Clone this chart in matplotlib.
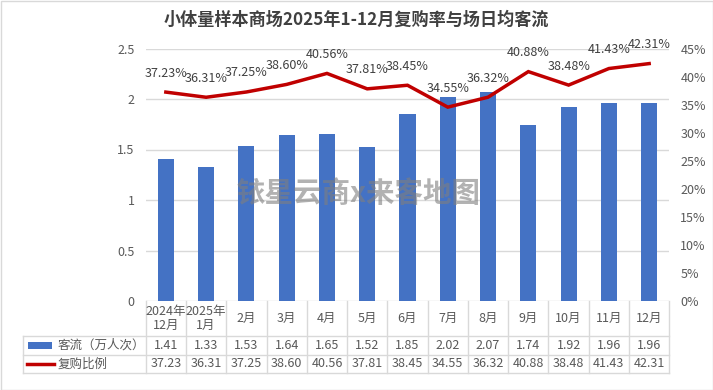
import matplotlib
matplotlib.use("Agg")
import matplotlib.pyplot as plt
from matplotlib.transforms import blended_transform_factory
from matplotlib.patches import Rectangle
from matplotlib.lines import Line2D
import numpy as np

plt.rcParams['font.family'] = ['Noto Sans CJK SC', 'DejaVu Sans']

title = "小体量样本商场2025年1-12月复购率与场日均客流"
categories = ["2024年\n12月", "2025年\n1月", "2月", "3月", "4月", "5月", "6月",
              "7月", "8月", "9月", "10月", "11月", "12月"]
traffic = [1.41, 1.33, 1.53, 1.64, 1.65, 1.52, 1.85, 2.02, 2.07, 1.74, 1.92, 1.96, 1.96]
repurchase = [37.23, 36.31, 37.25, 38.60, 40.56, 37.81, 38.45, 34.55, 36.32, 40.88, 38.48, 41.43, 42.31]
series_names = ["客流（万人次）", "复购比例"]
left_ticks = [0, 0.5, 1, 1.5, 2, 2.5]
left_tick_labels = ["0", "0.5", "1", "1.5", "2", "2.5"]
right_ticks = [0, 5, 10, 15, 20, 25, 30, 35, 40, 45]
watermark = "铱星云商x来客地图"

BAR = "#4472C4"
LINE = "#C00000"
TXT = "#595959"
GRID = "#D9D9D9"

W, H = 713, 390
fig = plt.figure(figsize=(W / 100, H / 100), dpi=100)
fig.patch.set_facecolor("white")

ax_l, ax_r, ax_t, ax_b = 145.7, 669.3, 48.5, 301.0
ax = fig.add_axes([ax_l / W, 1 - ax_b / H, (ax_r - ax_l) / W, (ax_b - ax_t) / H])
x = np.arange(len(categories))
ax.bar(x, traffic, width=0.4, color=BAR, zorder=2)
ax.set_xlim(-0.5, len(categories) - 0.5)
ax.set_ylim(0, 2.5)
ax.set_yticks(left_ticks)
ax.set_yticklabels(left_tick_labels)
ax.yaxis.grid(True, color=GRID, linewidth=1, zorder=0)
ax.set_axisbelow(True)
for s in ax.spines.values():
    s.set_visible(False)
ax.tick_params(axis='y', length=0, labelsize=9, labelcolor=TXT, pad=8)
ax.set_xticks([])

ax2 = ax.twinx()
ax2.plot(x, repurchase, color=LINE, linewidth=2.5, zorder=3, solid_joinstyle='miter')
ax2.set_ylim(0, 45)
ax2.set_yticks(right_ticks)
ax2.set_yticklabels([f"{t}%" for t in right_ticks])
for s in ax2.spines.values():
    s.set_visible(False)
ax2.tick_params(axis='y', length=0, labelsize=9, labelcolor=TXT, pad=8)
for xi, v in zip(x, repurchase):
    ax2.annotate(f"{v:.2f}%", (xi, v), xytext=(0, 9), textcoords="offset points",
                 ha="center", va="bottom", fontsize=9, color="#404040")

fig.text(0.5, 1 - 20 / H, title, ha="center", va="center", fontsize=12.3,
         fontweight="bold", color="#404040")

# data table below the axis
tr = blended_transform_factory(ax.transData, fig.transFigure)
ftr = fig.transFigure
y_head_b = 1 - 335.7 / H
y_r1_b = 1 - 355.0 / H
y_r2_b = 1 - 372.7 / H
y_top = 1 - ax_b / H
left_fig = 23 / W
xe = np.arange(len(categories) + 1) - 0.5
lw = 1
for xb in xe:
    fig.add_artist(Line2D([xb, xb], [y_top, y_r2_b], transform=tr, color=GRID, lw=lw))
for yy in (y_head_b, y_r1_b, y_r2_b):
    fig.add_artist(Line2D([left_fig, ax_r / W], [yy, yy], transform=ftr, color=GRID, lw=lw))
fig.add_artist(Line2D([left_fig, left_fig], [y_head_b, y_r2_b], transform=ftr, color=GRID, lw=lw))

for xi, c in zip(x, categories):
    fig.text(xi, (y_top + y_head_b) / 2, c, transform=tr, ha="center", va="center",
             fontsize=9, color=TXT, linespacing=1.15)
for xi, v in zip(x, traffic):
    fig.text(xi, (y_head_b + y_r1_b) / 2, f"{v:.2f}", transform=tr, ha="center",
             va="center", fontsize=9, color=TXT)
for xi, v in zip(x, repurchase):
    fig.text(xi, (y_r1_b + y_r2_b) / 2, f"{v:.2f}", transform=tr, ha="center",
             va="center", fontsize=9, color=TXT)

# legend keys in table rows
ym1 = (y_head_b + y_r1_b) / 2
ym2 = (y_r1_b + y_r2_b) / 2
fig.add_artist(Rectangle((28 / W, ym1 - 3.5 / H), 24 / W, 7 / H, transform=ftr,
                         color=BAR, lw=0))
fig.add_artist(Line2D([27 / W, 54 / W], [ym2, ym2], transform=ftr, color=LINE, lw=2.5))
fig.text(58 / W, ym1, series_names[0], transform=ftr, ha="left", va="center",
         fontsize=9, color=TXT)
fig.text(58 / W, ym2, series_names[1], transform=ftr, ha="left", va="center",
         fontsize=9, color=TXT)

# watermark
fig.text(358 / W, 1 - 194 / H, watermark, ha="center", va="center", fontsize=20.5,
         fontweight="bold", color="#7F7F7F", alpha=0.6, zorder=10)

# chart border
fig.add_artist(Rectangle((0.5 / W, 0.5 / H), (W - 1) / W, (H - 1) / H, transform=ftr,
                         fill=False, edgecolor="#D9D9D9", lw=1))

fig.savefig("out.png", dpi=100)
